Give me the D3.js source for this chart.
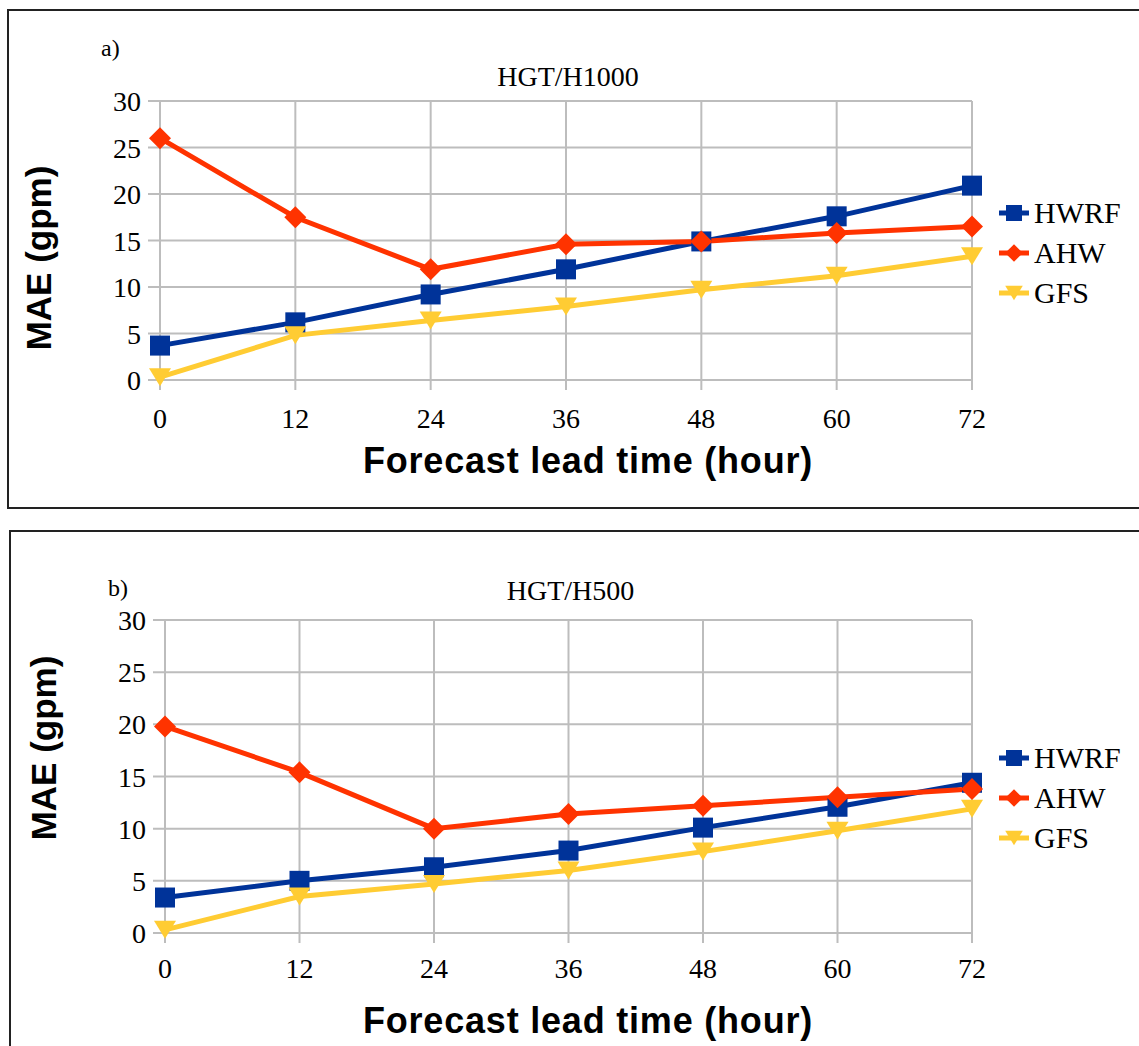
<!DOCTYPE html>
<html>
<head>
<meta charset="utf-8">
<script src="https://cdn.jsdelivr.net/npm/d3@7"></script>
<style>
  body { margin: 0; background: #fff; }
  svg { display: block; }
</style>
</head>
<body>
<svg id="chart"></svg>
<script>
// data
let leadTimes = [0, 12, 24, 36, 48, 60, 72]
let yTicks = [0, 5, 10, 15, 20, 25, 30]
let seriesNames = ['HWRF', 'AHW', 'GFS']

let hwrf1000 = [3.7, 6.2, 9.2, 11.9, 14.9, 17.6, 20.9]
let ahw1000  = [26.0, 17.5, 11.9, 14.6, 14.9, 15.8, 16.5]
let gfs1000  = [0.3, 4.8, 6.4, 7.9, 9.7, 11.2, 13.3]

let hwrf500 = [3.4, 5.0, 6.3, 7.9, 10.1, 12.1, 14.4]
let ahw500  = [19.8, 15.4, 10.0, 11.4, 12.2, 13.0, 13.8]
let gfs500  = [0.3, 3.5, 4.7, 6.0, 7.8, 9.8, 11.9]

let outerWidth = 1139
let outerHeight = 1046

let colors = { HWRF: '#003399', AHW: '#ff3300', GFS: '#ffcc33' }
let serif = '"Liberation Serif", "DejaVu Serif", serif'
let sans = '"Liberation Sans", Arial, sans-serif'

let svg = d3.select('#chart')
  .attr('width', outerWidth)
  .attr('height', outerHeight)

let panels = [
  {
    tag: 'a)', title: 'HGT/H1000',
    box: { x: 8, y: 10, w: 1140, h: 498 },
    plot: { left: 160, right: 972, top: 101, bottom: 380 },
    tagPos: [101, 56], titleY: 86,
    xLabelY: 428, xTitleY: 473, yTitleX: 51, yTitleMid: 258,
    legendY: [213, 253, 293],
    series: [hwrf1000, ahw1000, gfs1000]
  },
  {
    tag: 'b)', title: 'HGT/H500',
    box: { x: 10, y: 531, w: 1140, h: 530 },
    plot: { left: 165, right: 972, top: 620, bottom: 933 },
    tagPos: [108, 596], titleY: 600,
    xLabelY: 978, xTitleY: 1033, yTitleX: 56, yTitleMid: 748,
    legendY: [758, 798, 838],
    series: [hwrf500, ahw500, gfs500]
  }
]

function marker(g, name, size) {
  if (name == 'HWRF') {
    g.append('rect')
      .attr('x', -size / 2).attr('y', -size / 2)
      .attr('width', size).attr('height', size)
      .attr('fill', colors.HWRF)
  } else if (name == 'AHW') {
    let s = size * 0.55
    g.append('path')
      .attr('d', `M0,${-s} L${s},0 L0,${s} L${-s},0 Z`)
      .attr('fill', colors.AHW)
  } else {
    let w = size * 0.55, h = size * 0.45
    g.append('path')
      .attr('d', `M${-w},${-h} L${w},${-h} L0,${h} Z`)
      .attr('fill', colors.GFS)
  }
}

function drawPanel(p) {
  // frame
  svg.append('rect')
    .attr('x', p.box.x).attr('y', p.box.y)
    .attr('width', p.box.w).attr('height', p.box.h)
    .attr('fill', 'none')
    .attr('stroke', '#222')
    .attr('stroke-width', 2)

  let x = d3.scaleLinear().domain([0, 72]).range([p.plot.left, p.plot.right])
  let y = d3.scaleLinear().domain([0, 30]).range([p.plot.bottom, p.plot.top])

  let g = svg.append('g')

  // horizontal grid + ticks
  g.selectAll('.hgrid')
    .data(yTicks)
    .enter()
    .append('line')
    .attr('x1', p.plot.left - 12).attr('x2', p.plot.right)
    .attr('y1', d => y(d)).attr('y2', d => y(d))
    .attr('stroke', '#bdbdbd').attr('stroke-width', 2)

  // vertical grid + ticks
  g.selectAll('.vgrid')
    .data(leadTimes)
    .enter()
    .append('line')
    .attr('x1', d => x(d)).attr('x2', d => x(d))
    .attr('y1', p.plot.top).attr('y2', p.plot.bottom + 10)
    .attr('stroke', '#bdbdbd').attr('stroke-width', 2)

  // tick labels
  g.selectAll('.ylab')
    .data(yTicks)
    .enter()
    .append('text')
    .attr('x', p.plot.left - 19)
    .attr('y', d => y(d) + 10)
    .attr('text-anchor', 'end')
    .style('font', '28px ' + serif)
    .text(d => d)

  g.selectAll('.xlab')
    .data(leadTimes)
    .enter()
    .append('text')
    .attr('x', d => x(d))
    .attr('y', p.xLabelY)
    .attr('text-anchor', 'middle')
    .style('font', '28px ' + serif)
    .text(d => d)

  // lines
  let lineGen = d3.line()
    .x((d, i) => x(leadTimes[i]))
    .y(d => y(d))

  seriesNames.forEach((name, k) => {
    g.append('path')
      .attr('d', lineGen(p.series[k]))
      .attr('fill', 'none')
      .attr('stroke', colors[name])
      .attr('stroke-width', 5)
  })
  seriesNames.forEach((name, k) => {
    p.series[k].forEach((v, i) => {
      let m = g.append('g').attr('transform', `translate(${x(leadTimes[i])},${y(v)})`)
      marker(m, name, 20)
    })
  })

  // titles
  svg.append('text')
    .attr('x', p.tagPos[0]).attr('y', p.tagPos[1])
    .style('font', '24px ' + serif)
    .text(p.tag)

  svg.append('text')
    .attr('x', (p.plot.left + p.plot.right) / 2 + 2)
    .attr('y', p.titleY)
    .attr('text-anchor', 'middle')
    .style('font', '28px ' + serif)
    .text(p.title)

  svg.append('text')
    .attr('x', 588)
    .attr('y', p.xTitleY)
    .attr('text-anchor', 'middle')
    .style('font', 'bold 36px ' + sans)
    .style('letter-spacing', '0.8px')
    .text('Forecast lead time (hour)')

  let yMid = p.yTitleMid
  svg.append('text')
    .attr('x', p.yTitleX).attr('y', yMid)
    .attr('text-anchor', 'middle')
    .attr('transform', `rotate(-90 ${p.yTitleX} ${yMid})`)
    .style('font', 'bold 35px ' + sans)
    .text('MAE (gpm)')

  // legend
  seriesNames.forEach((name, k) => {
    let ly = p.legendY[k]
    svg.append('line')
      .attr('x1', p.plot.right + 27).attr('x2', p.plot.right + 57)
      .attr('y1', ly).attr('y2', ly)
      .attr('stroke', colors[name]).attr('stroke-width', 5)
    let m = svg.append('g').attr('transform', `translate(${p.plot.right + 42},${ly})`)
    marker(m, name, 16)
    svg.append('text')
      .attr('x', p.plot.right + 62).attr('y', ly + 10)
      .style('font', '30px ' + serif)
      .text(name)
  })
}

panels.forEach(drawPanel)
</script>
</body>
</html>
